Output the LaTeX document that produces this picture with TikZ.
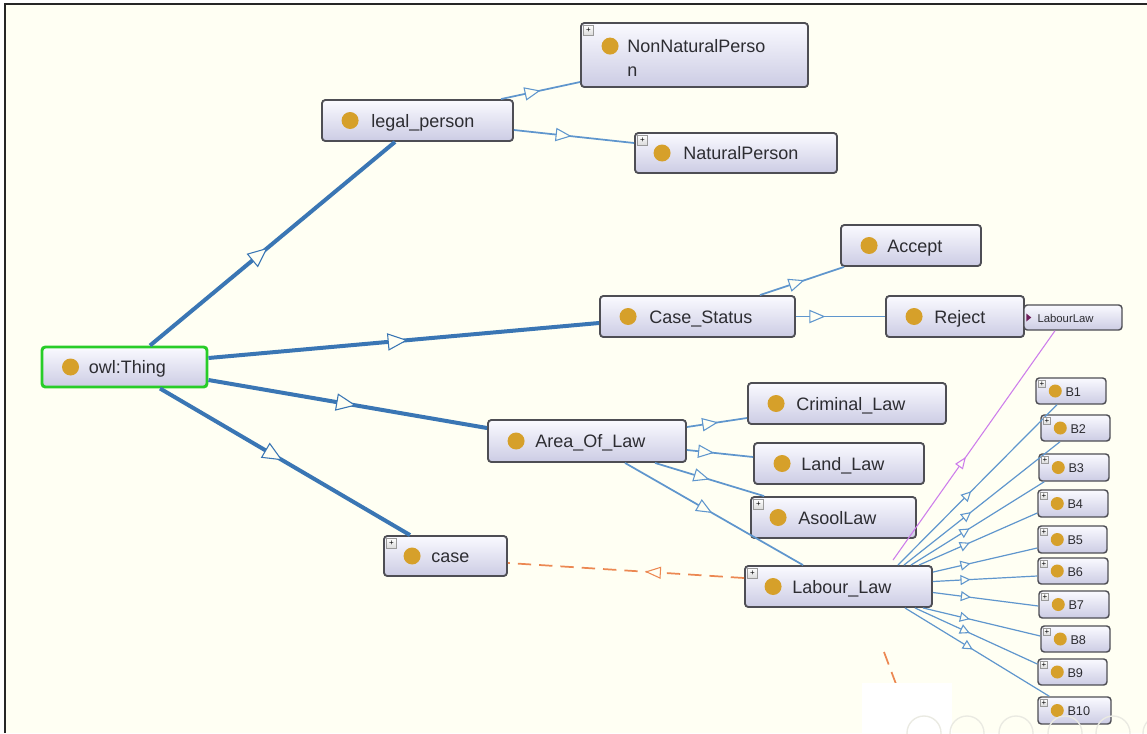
\documentclass[tikz,border=0pt]{standalone}
\usepackage{fontspec}
\setmainfont{Liberation Sans}
\usetikzlibrary{arrows.meta,decorations.markings,calc}
\newdimen\pxu \pxu=0.75pt
\definecolor{bgc}{RGB}{255,255,243}
\definecolor{edgeA}{RGB}{58,118,180}
\definecolor{edgeB}{RGB}{95,150,205}
\definecolor{dotc}{RGB}{214,160,42}
\definecolor{boxline}{RGB}{78,78,84}
\definecolor{boxtop}{RGB}{250,250,255}
\definecolor{boxbot}{RGB}{204,204,228}
\definecolor{owlgreen}{RGB}{40,205,40}
\definecolor{orangee}{RGB}{236,136,82}
\definecolor{purp}{RGB}{205,125,235}
\definecolor{dpurp}{RGB}{110,30,90}
\definecolor{txtc}{RGB}{45,45,50}
\definecolor{faint}{RGB}{234,234,226}
\newcommand\mklabel[4]{%
  \fill[dotc] ($(#1.west)+(#2,0)$) circle[radius=8.5\pxu];
  \node[lbl, anchor=base west] (#1-t) at ($(#1.west)+(#3,6.5)$) {#4};}
\newcommand\mksmall[2]{%
  \fill[dotc] ($(#1.west)+(20,0)$) circle[radius=6.5\pxu];
  \node[slbl, anchor=base west] (#1-t) at ($(#1.west)+(30,5)$) {#2};}
\newcommand\mkplus[2]{%
  \node[plusbox, minimum size=#2\pxu, anchor=north west] (#1-p) at ($(#1.north west)+(3,3)$) {\fontsize{6pt}{6pt}\selectfont +};}
\begin{document}
\begin{tikzpicture}[x=0.75pt,y=-0.75pt,
  cls/.style n args={2}{draw=boxline, line width=1.4pt, rounded corners=2.5pt,
     top color=boxtop, bottom color=boxbot, inner sep=0pt,
     minimum width=#1\pxu, minimum height=#2\pxu},
  lbl/.style={font=\fontsize{13.5pt}{18pt}\selectfont, text=txtc, inner sep=0pt},
  slbl/.style={font=\fontsize{9.5pt}{11pt}\selectfont, text=txtc, inner sep=0pt},
  tlbl/.style={font=\fontsize{8.5pt}{10pt}\selectfont, text=txtc, inner sep=0pt},
  plusbox/.style={draw=gray!80, line width=0.4pt, top color=white, bottom color=gray!30, inner sep=0pt},
  edg/.style n args={4}{line width=#1, postaction={decorate},
     decoration={markings, mark=at position #2 with {\arrow{Triangle[open, fill=bgc, length=#3, width=#4, line width=0.8pt]}}}},
]
\useasboundingbox (0,0) rectangle (1147,733);
\fill[white] (0,0) rectangle (1147,733);
\fill[bgc] (5,4) rectangle (1147,733);
\draw[black!85, line width=2.2pt] (5,733) -- (5,4) -- (1147,4);

% nodes
\node[cls={165}{40}, draw=owlgreen, line width=2.2pt] (thing) at (124.5,367) {};
\node[cls={191}{41}] (lp) at (417.5,120.5) {};
\node[cls={227}{64}] (nnp) at (694.5,55) {};
\node[cls={202}{40}] (np) at (736,153) {};
\node[cls={195}{41}] (cs) at (697.5,316.5) {};
\node[cls={140}{41}] (acc) at (911,245.5) {};
\node[cls={138}{41}] (rej) at (955,316.5) {};
\node[cls={98}{25}, line width=1.1pt] (lls) at (1073,317.5) {};
\node[cls={198}{42}] (aol) at (587,441) {};
\node[cls={198}{41}] (crim) at (847,403.5) {};
\node[cls={170}{41}] (land) at (839,463.5) {};
\node[cls={165}{41}] (asool) at (833.5,517.5) {};
\node[cls={123}{40}] (case) at (445.5,556) {};
\node[cls={187}{41}] (ll) at (838.5,586.5) {};
\node[cls={70}{26}, line width=1.1pt] (B1) at (1071,391) {};
\node[cls={69}{26}, line width=1.1pt] (B2) at (1075.5,428) {};
\node[cls={70}{27}, line width=1.1pt] (B3) at (1074,467.5) {};
\node[cls={70}{27}, line width=1.1pt] (B4) at (1073,503.5) {};
\node[cls={69}{27}, line width=1.1pt] (B5) at (1072.5,539.5) {};
\node[cls={70}{26}, line width=1.1pt] (B6) at (1073,571) {};
\node[cls={70}{27}, line width=1.1pt] (B7) at (1074,604.5) {};
\node[cls={69}{26}, line width=1.1pt] (B8) at (1075.5,639) {};
\node[cls={69}{26}, line width=1.1pt] (B9) at (1072.5,672) {};
\node[cls={73}{27}, line width=1.1pt] (B10) at (1074.5,710.5) {};

% thick edges
\draw[edgeA, edg={3pt}{0.48}{15pt}{13pt}] ($(thing.north)+(25.5,0)$) -- ($(lp.south)+(-22.5,0)$);
\draw[edgeA, edg={3pt}{0.51}{15pt}{13pt}] ($(thing.east)+(0,-9)$) -- ($(cs.west)+(0,6.5)$);
\draw[edgeA, edg={3pt}{0.53}{15pt}{13pt}] ($(thing.east)+(0,13)$) -- ($(aol.west)+(0,-13)$);
\draw[edgeA, edg={3pt}{0.49}{15pt}{13pt}] ($(thing.south)+(35.5,0)$) -- ($(case.north)+(-35.5,0)$);

% thin edges
\draw[edgeB, edg={1.3pt}{0.5}{12pt}{10pt}] ($(lp.north east)+(-13,0)$) -- ($(nnp.west)+(0,27)$);
\draw[edgeB, edg={1.3pt}{0.48}{12pt}{10pt}] ($(lp.east)+(0,9.5)$) -- ($(np.west)+(0,-10)$);
\draw[edgeB, edg={1.3pt}{0.53}{12pt}{10pt}] ($(cs.north)+(62.5,0)$) -- ($(acc.south west)+(4,0)$);
\draw[edgeB, edg={1.3pt}{0.33}{12pt}{10pt}] (cs.east) -- (rej.west);
\draw[edgeB, edg={1.3pt}{0.52}{12pt}{10pt}] ($(aol.east)+(0,-14)$) -- ($(crim.west)+(0,14.5)$);
\draw[edgeB, edg={1.3pt}{0.41}{12pt}{10pt}] ($(aol.east)+(0,9)$) -- ($(land.west)+(0,-6.5)$);
\draw[edgeB, edg={1.3pt}{0.5}{12pt}{10pt}] ($(aol.south)+(68,0)$) -- ($(asool.north west)+(14,0)$);
\draw[edgeB, edg={1.3pt}{0.49}{12pt}{10pt}] ($(aol.south)+(38,0)$) -- ($(ll.north)+(-35.5,0)$);

% Labour_Law to B nodes
\draw[edgeB, edg={0.9pt}{0.46}{7.5pt}{7.5pt}] ($(ll.north east)+(-35,0)$) -- ($(B1.south)+(-14,0)$);
\draw[edgeB, edg={0.9pt}{0.43}{7.5pt}{7.5pt}] ($(ll.north east)+(-29,0)$) -- ($(B2.south)+(-15.5,0)$);
\draw[edgeB, edg={0.9pt}{0.44}{7.5pt}{7.5pt}] ($(ll.north east)+(-22,0)$) -- ($(B3.south west)+(6,0)$);
\draw[edgeB, edg={0.9pt}{0.43}{7.5pt}{7.5pt}] ($(ll.north east)+(-14,0)$) -- ($(B4.west)+(0,9.5)$);
\draw[edgeB, edg={0.9pt}{0.36}{7.5pt}{7.5pt}] ($(ll.north east)+(0,7)$) -- ($(B5.west)+(0,8.5)$);
\draw[edgeB, edg={0.9pt}{0.36}{7.5pt}{7.5pt}] ($(ll.east)+(0,-5)$) -- ($(B6.west)+(0,5)$);
\draw[edgeB, edg={0.9pt}{0.36}{7.5pt}{7.5pt}] ($(ll.east)+(0,6)$) -- ($(B7.west)+(0,1.5)$);
\draw[edgeB, edg={0.9pt}{0.40}{7.5pt}{7.5pt}] ($(ll.south east)+(-10,0)$) -- ($(B8.west)+(0,-3)$);
\draw[edgeB, edg={0.9pt}{0.45}{7.5pt}{7.5pt}] ($(ll.south east)+(-18,0)$) -- ($(B9.west)+(0,-8)$);
\draw[edgeB, edg={0.9pt}{0.47}{7.5pt}{7.5pt}] ($(ll.south east)+(-28,0)$) -- ($(B10.north west)+(12,0)$);

% purple edge
\draw[purp, edg={0.8pt}{0.45}{9pt}{7pt}] ($(ll.north)+(54.5,-5)$) -- ($(lls.south)+(-18,0)$);
% orange dashed edge
\draw[orangee, dash pattern=on 10pt off 6pt, edg={1.3pt}{0.42}{12pt}{9pt}] ($(ll.west)+(0,-8.5)$) -- ($(case.east)+(0,7)$);
\coordinate (od1) at (884,652);
\coordinate (od2) at (899,692);
\draw[orangee, line width=1.3pt, dash pattern=on 10pt off 6pt] (od1) -- (od2);

% labels
\mklabel{thing}{30}{48}{owl:Thing}
\mklabel{lp}{29}{50}{legal\_person}
\fill[dotc] ($(nnp.north west)+(30,24)$) circle[radius=8.5\pxu];
\node[lbl, anchor=base west] (nnp-t) at ($(nnp.north west)+(47,30)$) {NonNaturalPerso};
\node[lbl, anchor=base west] (nnp-t2) at ($(nnp.north west)+(47,54)$) {n};
\mklabel{np}{28}{49}{NaturalPerson}
\mklabel{cs}{29}{50}{Case\_Status}
\mklabel{acc}{29}{47}{Accept}
\mklabel{rej}{29}{49}{Reject}
\mklabel{aol}{29}{48}{Area\_Of\_Law}
\mklabel{crim}{29}{49}{Criminal\_Law}
\mklabel{land}{29}{48}{Land\_Law}
\mklabel{asool}{28}{48}{AsoolLaw}
\mklabel{case}{29}{48}{case}
\mklabel{ll}{29}{48}{Labour\_Law}
\node[tlbl, anchor=base west] (lls-t) at ($(lls.west)+(14,4.5)$) {LabourLaw};
\fill[dpurp] ($(lls.west)+(3,-4)$) -- ++(5,4) -- ++(-5,4) -- cycle;
\mksmall{B1}{B1}
\mksmall{B2}{B2}
\mksmall{B3}{B3}
\mksmall{B4}{B4}
\mksmall{B5}{B5}
\mksmall{B6}{B6}
\mksmall{B7}{B7}
\mksmall{B8}{B8}
\mksmall{B9}{B9}
\mksmall{B10}{B10}

% plus icons
\mkplus{nnp}{10}
\mkplus{np}{10}
\mkplus{asool}{10}
\mkplus{case}{10}
\mkplus{ll}{10}
\mkplus{B1}{7}
\mkplus{B2}{7}
\mkplus{B3}{7}
\mkplus{B4}{7}
\mkplus{B5}{7}
\mkplus{B6}{7}
\mkplus{B7}{7}
\mkplus{B8}{7}
\mkplus{B9}{7}
\mkplus{B10}{7}

% white patch and faint toolbar
\fill[white] (862,683) rectangle (952,733);
\foreach \cx in {924,967,1016,1065,1113,1160}
  \draw[faint, line width=1pt] (\cx,733) circle[radius=17\pxu];
\end{tikzpicture}
\end{document}
